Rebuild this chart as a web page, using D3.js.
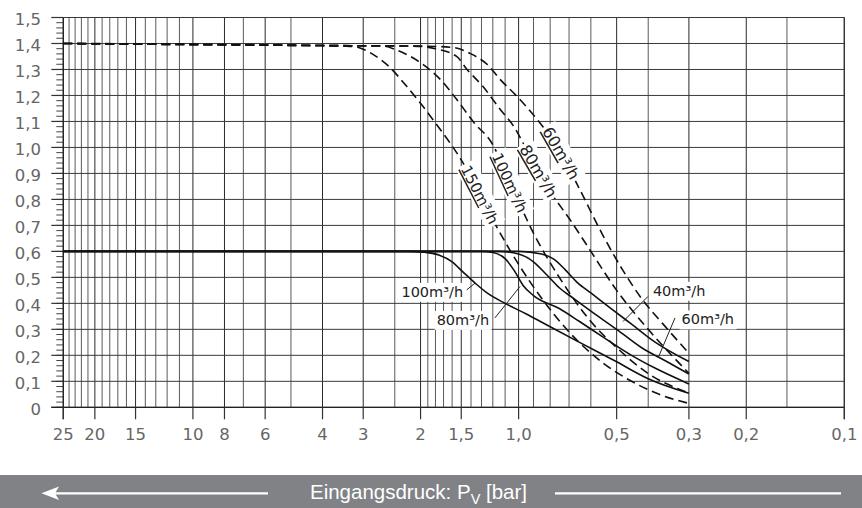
<!DOCTYPE html>
<html>
<head>
<meta charset="utf-8">
<script src="https://cdn.jsdelivr.net/npm/d3@7"></script>
<style>
  html, body { margin: 0; padding: 0; background: #fff; }
  svg { display: block; }
</style>
</head>
<body>
<svg id="chart" width="862" height="508"></svg>
<script>
// Achsen
var druckTicks = [25, 20, 15, 10, 8, 6, 4, 3, 2, 1.5, 1.0, 0.5, 0.3, 0.2, 0.1];
var druckTickLabels = ["25", "20", "15", "10", "8", "6", "4", "3", "2", "1,5", "1,0", "0,5", "0,3", "0,2", "0,1"];
var druckGitter = [25, 24, 23, 22, 21, 20, 19, 18, 17, 16, 15, 14, 13, 12, 11, 10, 8, 7, 6, 5, 4, 3, 2.4, 2,
  1.9, 1.8, 1.7, 1.6, 1.5, 1.4, 1.3, 1.2, 1.1, 1.0, 0.9, 0.8, 0.7, 0.6, 0.5, 0.4, 0.3, 0.2, 0.15, 0.1];
var ausgangTicks = [0, 0.1, 0.2, 0.3, 0.4, 0.5, 0.6, 0.7, 0.8, 0.9, 1.0, 1.1, 1.2, 1.3, 1.4, 1.5];

// Kennlinien [Eingangsdruck bar, Ausgangsdruck bar]
// gestrichelt (Sollwert 1,4)
var gestr60 = [[25, 1.4], [4, 1.392], [2, 1.39], [1.6, 1.385], [1.4, 1.36], [1.25, 1.32], [1.14, 1.262], [1.0, 1.19],
  [0.88, 1.11], [0.75, 0.99], [0.65, 0.84], [0.55, 0.66], [0.48, 0.53], [0.42, 0.42], [0.36, 0.32], [0.3, 0.208]];
var gestr80 = [[25, 1.4], [4, 1.392], [2.1, 1.39], [1.8, 1.38], [1.55, 1.35], [1.44, 1.30], [1.29, 1.236], [1.14, 1.147],
  [1.04, 1.085], [0.9, 0.94], [0.8, 0.83], [0.695, 0.722], [0.6, 0.6], [0.5, 0.45], [0.4, 0.3], [0.3, 0.131]];
var gestr100 = [[25, 1.4], [4, 1.392], [2.6, 1.39], [2.37, 1.375], [1.97, 1.32], [1.74, 1.262], [1.55, 1.185], [1.37, 1.095],
  [1.21, 1.018], [1.05, 0.85], [0.9, 0.67], [0.75, 0.5], [0.6, 0.33], [0.5, 0.23], [0.4, 0.13], [0.3, 0.055]];
var gestr150 = [[25, 1.4], [4, 1.392], [3.3, 1.389], [3.07, 1.383], [2.8, 1.358], [2.48, 1.307], [2.21, 1.236], [1.97, 1.159],
  [1.74, 1.069], [1.55, 0.98], [1.44, 0.915], [1.17, 0.696], [1.0, 0.55], [0.85, 0.42], [0.7, 0.29], [0.55, 0.17],
  [0.45, 0.1], [0.37, 0.05], [0.3, 0.015]];
// durchgezogen (Sollwert 0,6)
var durch40 = [[25, 0.6], [1.0, 0.6], [0.85, 0.59], [0.78, 0.57], [0.72, 0.53], [0.66, 0.48], [0.6, 0.44], [0.52, 0.38],
  [0.45, 0.32], [0.38, 0.25], [0.3, 0.176]];
var durch60 = [[25, 0.6], [1.15, 0.6], [1.0, 0.59], [0.9, 0.56], [0.82, 0.51], [0.75, 0.46], [0.68, 0.42], [0.6, 0.37],
  [0.5, 0.3], [0.42, 0.23], [0.35, 0.175], [0.3, 0.128]];
var durch80 = [[25, 0.6], [1.3, 0.6], [1.2, 0.596], [1.1, 0.572], [1.03, 0.525], [0.97, 0.47], [0.9, 0.43], [0.75, 0.38],
  [0.65, 0.33], [0.55, 0.27], [0.45, 0.2], [0.38, 0.15], [0.3, 0.09]];
var durch100 = [[25, 0.6], [2.2, 0.6], [1.95, 0.597], [1.75, 0.585], [1.6, 0.56], [1.48, 0.52], [1.36, 0.478], [1.25, 0.44],
  [1.1, 0.4], [0.95, 0.36], [0.8, 0.31], [0.65, 0.25], [0.5, 0.175], [0.4, 0.11], [0.3, 0.054]];

// Beschriftungen
var gestrLabels = [
  { daten: gestr150, text: "150", bei: 1.314 },
  { daten: gestr100, text: "100", bei: 1.063 },
  { daten: gestr80, text: "80", bei: 0.87 },
  { daten: gestr60, text: "60", bei: 0.741 }
];
// Textanfang [p, wert], Zeigerlinie von [p, wert] nach [p, wert]
var durchLabels = [
  { text: "100", anker: [2.29, 0.425], von: [1.443, 0.452], nach: [1.36, 0.478] },
  { text: "80", anker: [1.785, 0.317], von: [1.182, 0.344], nach: [0.99, 0.465] },
  { text: "40", anker: [0.387, 0.429], von: [0.4007, 0.4265], nach: [0.478, 0.33] },
  { text: "60", anker: [0.316, 0.319], von: [0.331, 0.344], nach: [0.373, 0.19] }
];

var svg = d3.select("#chart");
var x = d3.scaleLog().domain([25, 0.1]).range([63.3, 844.3]);
var y = d3.scaleLinear().domain([0, 1.5]).range([407.3, 17.5]);

var tickFont = "'DejaVu Sans', sans-serif";

// Gitter
var gitter = svg.append("g").attr("class", "gitter");
gitter.selectAll("line.v").data(druckGitter).enter().append("line")
  .attr("x1", function (d) { return x(d); }).attr("x2", function (d) { return x(d); })
  .attr("y1", y(1.5)).attr("y2", y(0))
  .attr("stroke", function (d) { return druckTicks.indexOf(d) >= 0 ? "#2a2a2a" : "#5a5a5a"; })
  .attr("stroke-width", 1);
gitter.selectAll("line.h").data(ausgangTicks).enter().append("line")
  .attr("x1", x(25)).attr("x2", x(0.1))
  .attr("y1", function (d) { return y(d); }).attr("y2", function (d) { return y(d); })
  .attr("stroke", "#3a3a3a").attr("stroke-width", 1);

// y-Achse
var minor = d3.range(0, 1.5001, 0.02);
svg.append("g").selectAll("line").data(minor).enter().append("line")
  .attr("x1", x(25) - 7).attr("x2", x(25))
  .attr("y1", function (d) { return y(d); }).attr("y2", function (d) { return y(d); })
  .attr("stroke", "#444").attr("stroke-width", 1);
svg.append("g").selectAll("line").data(ausgangTicks).enter().append("line")
  .attr("x1", x(25) - 12).attr("x2", x(25))
  .attr("y1", function (d) { return y(d); }).attr("y2", function (d) { return y(d); })
  .attr("stroke", "#333").attr("stroke-width", 1.2);
svg.append("line").attr("x1", x(25)).attr("x2", x(25)).attr("y1", y(1.5)).attr("y2", y(0) + 12)
  .attr("stroke", "#222").attr("stroke-width", 1.3);
svg.append("g").selectAll("text").data(ausgangTicks).enter().append("text")
  .attr("x", 41).attr("y", function (d) { return y(d) + 7.5; })
  .attr("text-anchor", "end")
  .attr("font-family", tickFont).attr("font-size", 16.5).attr("fill", "#666")
  .text(function (d) { return d === 0 ? "0" : d3.format(".1f")(d).replace(".", ","); });

// x-Achse
svg.append("line").attr("x1", x(25) - 12).attr("x2", x(0.1)).attr("y1", y(0)).attr("y2", y(0))
  .attr("stroke", "#222").attr("stroke-width", 1.3);
svg.append("g").selectAll("line").data(druckTicks).enter().append("line")
  .attr("x1", function (d) { return x(d); }).attr("x2", function (d) { return x(d); })
  .attr("y1", y(0)).attr("y2", y(0) + 12)
  .attr("stroke", "#333").attr("stroke-width", 1.2);
svg.append("g").selectAll("text").data(druckTicks).enter().append("text")
  .attr("x", function (d) { return x(d); }).attr("y", 440)
  .attr("text-anchor", "middle")
  .attr("font-family", tickFont).attr("font-size", 16.5).attr("fill", "#666")
  .text(function (d, i) { return druckTickLabels[i]; });
svg.append("line").attr("x1", x(0.1)).attr("x2", x(0.1)).attr("y1", y(1.5)).attr("y2", y(0) + 12)
  .attr("stroke", "#333").attr("stroke-width", 1.2);

// Kennlinien
var linie = d3.line()
  .x(function (d) { return x(d[0]); })
  .y(function (d) { return y(d[1]); })
  .curve(d3.curveMonotoneX);

var kurven = svg.append("g").attr("class", "kurven");
[gestr150, gestr100, gestr80, gestr60].forEach(function (k) {
  kurven.append("path").attr("d", linie(k)).attr("fill", "none")
    .attr("stroke", "#111").attr("stroke-width", 1.6).attr("stroke-dasharray", "9,5");
});
[durch100, durch80, durch60, durch40].forEach(function (k) {
  kurven.append("path").attr("d", linie(k)).attr("fill", "none")
    .attr("stroke", "#111").attr("stroke-width", 1.6);
});

function wertBei (daten, p) {
  for (var i = 0; i < daten.length - 1; ++i) {
    var a = daten[i], b = daten[i + 1];
    if (p <= a[0] && p >= b[0]) {
      var t = Math.log(a[0] / p) / Math.log(a[0] / b[0]);
      return a[1] + t * (b[1] - a[1]);
    }
  }
  return daten[daten.length - 1][1];
}

function einheit (sel, zahl, unterstrichen) {
  var t = sel.append("tspan").text(zahl + "m");
  if (unterstrichen) t.attr("text-decoration", "underline");
  sel.append("tspan").text("³/h");
}

// Beschriftung gestrichelt
gestrLabels.forEach(function (l) {
  var v = wertBei(l.daten, l.bei);
  var px = x(l.bei), py = y(v);
  var p1 = [x(l.bei * 1.04), y(wertBei(l.daten, l.bei * 1.04))];
  var p2 = [x(l.bei / 1.04), y(wertBei(l.daten, l.bei / 1.04))];
  var winkel = Math.atan2(p2[1] - p1[1], p2[0] - p1[0]) * 180 / Math.PI;
  var g = svg.append("g").attr("transform", "translate(" + px + "," + py + ") rotate(" + winkel + ")");
  var breite = l.text.length === 3 ? 68 : 62;
  g.append("rect").attr("x", -breite / 2).attr("y", -11).attr("width", breite).attr("height", 21).attr("fill", "#fff");
  var t = g.append("text").attr("x", 0).attr("y", 5.5).attr("text-anchor", "middle")
    .attr("font-family", tickFont).attr("font-size", l.text.length === 3 ? 15 : 16).attr("fill", "#222");
  einheit(t, l.text, true);
});

// Beschriftung durchgezogen
durchLabels.forEach(function (l) {
  svg.append("line")
    .attr("x1", x(l.von[0])).attr("y1", y(l.von[1]))
    .attr("x2", x(l.nach[0])).attr("y2", y(l.nach[1]))
    .attr("stroke", "#222").attr("stroke-width", 1);
  var breite = l.text.length === 3 ? 66 : 57;
  svg.append("rect").attr("x", x(l.anker[0]) - 2).attr("y", y(l.anker[1]) - 14)
    .attr("width", breite).attr("height", 19).attr("fill", "#fff");
  var t = svg.append("text").attr("x", x(l.anker[0])).attr("y", y(l.anker[1]))
    .attr("font-family", tickFont).attr("font-size", 14.5).attr("fill", "#222");
  einheit(t, l.text, false);
});

// Fusszeile
var fuss = svg.append("g");
fuss.append("rect").attr("x", 0).attr("y", 475).attr("width", 862).attr("height", 33).attr("fill", "#818286");
fuss.append("line").attr("x1", 54).attr("x2", 268).attr("y1", 493.3).attr("y2", 493.3)
  .attr("stroke", "#fff").attr("stroke-width", 2.2);
fuss.append("path").attr("d", "M41.5,493.3 L59,486.5 L55,493.3 L59,500.1 Z").attr("fill", "#fff");
fuss.append("line").attr("x1", 555).attr("x2", 841).attr("y1", 493.3).attr("y2", 493.3)
  .attr("stroke", "#fff").attr("stroke-width", 2.2);
var titel = fuss.append("text").attr("x", 418.5).attr("y", 498.5).attr("text-anchor", "middle")
  .attr("font-family", "'Liberation Sans', Arial, sans-serif").attr("font-size", 20.5).attr("fill", "#fff");
titel.append("tspan").text("Eingangsdruck: P");
titel.append("tspan").attr("font-size", 14.5).attr("dy", 5).text("V");
titel.append("tspan").attr("dy", -5).text(" [bar]");
</script>
</body>
</html>
